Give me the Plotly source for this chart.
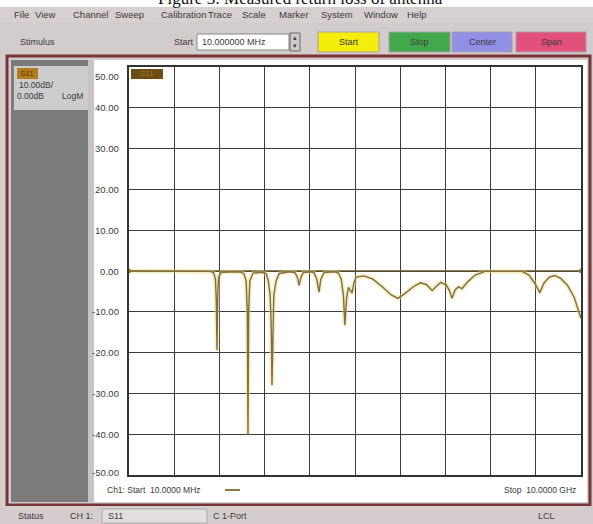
import plotly.graph_objects as go

# ---------------- data ----------------
freq_ghz = [0.01, 1.20, 1.80, 1.88, 1.92, 1.94, 1.955, 1.97, 1.99, 2.05,
            2.45, 2.55, 2.60, 2.625, 2.64, 2.655, 2.68, 2.75,
            2.95, 3.04, 3.09, 3.13, 3.155, 3.17, 3.185, 3.21, 3.26, 3.33,
            3.55, 3.68, 3.73, 3.77, 3.81, 3.86,
            4.02, 4.10, 4.16, 4.21, 4.25, 4.32,
            4.55, 4.64, 4.70, 4.75, 4.78, 4.82, 4.86, 4.90, 4.94, 4.98, 5.03,
            5.20, 5.40, 5.60, 5.80, 5.95, 6.10, 6.30, 6.45, 6.58, 6.71, 6.80,
            6.90, 7.02, 7.10, 7.15, 7.22, 7.29, 7.37, 7.50, 7.66, 7.88,
            8.70, 8.85, 8.98, 9.09, 9.18, 9.30, 9.42, 9.55, 9.70, 9.85, 10.0]
s11_db = [0.0, 0.0, -0.1, -0.4, -2.0, -7.5, -19.4, -6.0, -1.5, -0.3,
          -0.2, -0.6, -2.5, -10.0, -40.0, -10.0, -2.5, -0.5,
          -0.3, -0.6, -2.5, -6.0, -14.0, -28.0, -14.0, -6.0, -2.5, -0.6,
          -0.2, -0.4, -1.5, -3.5, -1.5, -0.4,
          -0.2, -0.4, -2.0, -5.2, -2.0, -0.4,
          -0.2, -0.5, -2.0, -6.0, -13.3, -6.5, -4.0, -4.6, -5.4, -3.0, -1.5,
          -1.2, -2.0, -3.8, -5.8, -6.7, -5.6, -3.8, -2.9, -3.3, -4.8, -3.8,
          -2.8, -3.4, -5.0, -6.7, -4.6, -3.9, -4.3, -2.6, -1.0, -0.1,
          -0.1, -1.0, -3.0, -5.3, -3.0, -1.5, -1.1, -1.8, -3.5, -6.5, -11.6]

f_start, f_stop = 0.01, 10.0
y_ticks = [50, 40, 30, 20, 10, 0, -10, -20, -30, -40, -50]
y_tick_text = ["50.00", "40.00", "30.00", "20.00", "10.00", "0.00",
               "-10.00", "-20.00", "-30.00", "-40.00", "-50.00"]
menu_items = ["File", "View", "Channel", "Sweep", "Calibration", "Trace",
              "Scale", "Marker", "System", "Window", "Help"]
buttons = ["Start", "Stop", "Center", "Span"]
button_colors = ["#f4ee0a", "#43a84c", "#8f90e6", "#e2507c"]

# ---------------- layout helpers ----------------
W, H = 593, 524
def X(px): return px / W
def Y(py): return 1 - py / H

FONT = "Liberation Sans"
TXT = "#3a3a3a"
shapes, ann = [], []

def rect(x0, y0, x1, y1, fill, line=None, lw=0, layer="below"):
    shapes.append(dict(type="rect", xref="paper", yref="paper",
                       x0=X(x0), x1=X(x1), y0=Y(y1), y1=Y(y0),
                       fillcolor=fill, line=dict(color=line or fill, width=lw),
                       layer=layer))

def text(px, py, s, size=9, color=TXT, anchor="left", family=FONT):
    ann.append(dict(xref="paper", yref="paper", x=X(px), y=Y(py), text=s,
                    showarrow=False, xanchor=anchor, yanchor="middle",
                    font=dict(family=family, size=size, color=color)))

# top caption strip (cut off, as in the screenshot) and menu/toolbar
rect(0, 0, 593, 7, "#ffffff")
text(300, -2, "Figure 3: Measured return loss of antenna", size=17,
     color="#111", anchor="center", family="Liberation Serif")
rect(0, 7, 593, 22, "#d7d0d0")
rect(0, 22, 593, 56, "#d3cccc")
menu_x = [12, 33, 71, 113, 159, 206, 240, 277, 319, 362, 405]
for mx, m in zip(menu_x, menu_items):
    text(mx, 15, m, size=9.5)
text(18, 42, "Stimulus", size=9)
text(172, 42, "Start", size=9)
rect(197, 34, 289, 50, "#ffffff", "#888", 1)
text(200, 42, "10.000000 MHz", size=9)
rect(290, 33, 300, 51, "#cfc9c9", "#666", 1)
text(295, 38, "▴", size=7, anchor="center")
text(295, 46, "▾", size=7, anchor="center")
btn_x = [(318, 379), (389, 450), (452, 512), (516, 586)]
for (bx0, bx1), b, c in zip(btn_x, buttons, button_colors):
    rect(bx0, 32, bx1, 52, c, "#a89f9f", 1)
    text((bx0 + bx1) / 2, 42, b, size=9, anchor="center")

# window frame
rect(7, 56, 590, 505, "#d3cccc", "#7a3434", 3)
rect(11, 60, 88, 502, "#7b7b7b")
rect(14, 66, 88, 110, "#cdcdcd")
rect(17, 68, 38, 79, "#b27c1c")
text(18, 74, "S11", size=8, color="#5a3a08")
text(17, 85, "10.00dB/", size=8.5)
text(15, 96, "0.00dB", size=8.5)
text(60, 96, "LogM", size=8.5)
rect(88, 60, 94, 502, "#c9c4c4")
rect(94, 60, 587, 502, "#ffffff")

# status bar
rect(0, 506, 593, 524, "#d5cdcd")
text(16, 516, "Status", size=9)
text(68, 516, "CH 1:", size=9)
rect(102, 509, 207, 523, "#e3dfdf", "#aaa", 1)
text(106, 516, "S11", size=9)
text(211, 516, "C 1-Port", size=9)
text(536, 516, "LCL", size=9)

# y tick labels (from the axis tick lists)
for v, t in zip(y_ticks, y_tick_text):
    shift = -9 if v == 50 else (3 if v == -50 else 0)
    ann.append(dict(xref="paper", yref="y", x=X(121), y=v, yshift=shift,
                    text=t, showarrow=False, xanchor="right", yanchor="middle",
                    font=dict(family=FONT, size=9.5, color=TXT)))

# bottom channel texts
text(105, 490, "Ch1: Start  10.0000 MHz", size=8.5)
shapes.append(dict(type="line", xref="paper", yref="paper",
                   x0=X(225), x1=X(240), y0=Y(490), y1=Y(490),
                   line=dict(color="#8a7a44", width=2)))
text(578, 490, "Stop  10.0000 GHz", size=8.5, anchor="right")

# trace label box at top-left of the grid
rect(131, 69, 163, 79, "#6e4c14")
text(147, 74, "S11", size=8, color="#9a7a30", anchor="center")

fig = go.Figure()
# reference line at 0 dB
fig.add_trace(go.Scatter(x=[f_start, f_stop], y=[0, 0], mode="lines",
                         line=dict(color="#5c5228", width=1.6),
                         hoverinfo="skip", showlegend=False))
# yellow halo + trace
fig.add_trace(go.Scatter(x=freq_ghz, y=s11_db, mode="lines",
                         line=dict(color="rgba(236,214,120,0.45)", width=4.5),
                         hoverinfo="skip", showlegend=False))
fig.add_trace(go.Scatter(x=freq_ghz, y=s11_db, mode="lines", name="S11",
                         line=dict(color="#7f6f42", width=1.4),
                         showlegend=False))
# reference markers
fig.add_trace(go.Scatter(x=[f_start], y=[0], mode="markers",
                         marker=dict(symbol="triangle-right", size=7, color="#8a7a30"),
                         cliponaxis=False, showlegend=False, hoverinfo="skip"))
fig.add_trace(go.Scatter(x=[f_stop], y=[0], mode="markers",
                         marker=dict(symbol="triangle-left", size=7, color="#8a7a30"),
                         cliponaxis=False, showlegend=False, hoverinfo="skip"))

fig.update_layout(
    width=W, height=H, margin=dict(l=0, r=0, t=0, b=0),
    paper_bgcolor="#d5cdcd", plot_bgcolor="#ffffff",
    shapes=shapes, annotations=ann,
    xaxis=dict(domain=[X(129), X(581)], range=[f_start, f_stop],
               tick0=f_start, dtick=(f_stop - f_start) / 10,
               showgrid=True, gridcolor="#3c3c3c", gridwidth=1.3,
               showticklabels=False, zeroline=False,
               showline=True, linecolor="#333", linewidth=1.5, mirror=True),
    yaxis=dict(domain=[Y(475), Y(67)], range=[-50, 50],
               tickvals=y_ticks, showgrid=True, gridcolor="#3c3c3c",
               gridwidth=1.3, showticklabels=False, zeroline=False,
               showline=True, linecolor="#333", linewidth=1.5, mirror=True),
)
fig.write_html("out.html", config={"displayModeBar": False},
               post_script="document.body.style.margin='0';"
                           "document.body.style.overflow='hidden';")
